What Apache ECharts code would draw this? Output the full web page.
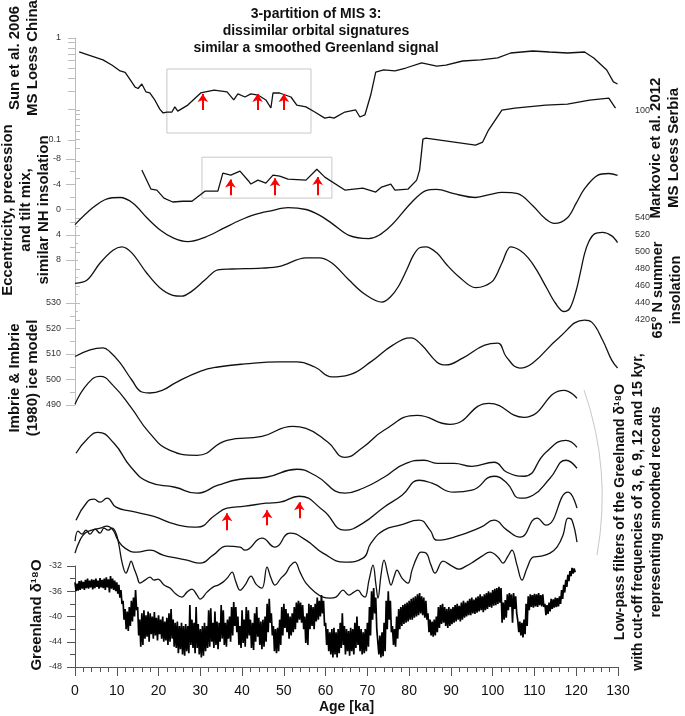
<!DOCTYPE html>
<html><head><meta charset="utf-8">
<script src="https://cdn.jsdelivr.net/npm/echarts@6/dist/echarts.min.js"></script>
<style>html,body{margin:0;padding:0;background:#fff}#c{width:685px;height:716px}</style>
</head><body><div id="c"></div>
<script>
// ---------- DATA ----------
const ageTicks = [0,10,20,30,40,50,60,70,80,90,100,110,120,130];

// Sun et al. 2006, MS Loess China (log scale, [age ka, MS])
const sunChina = [[1.0,0.73],[2.4,0.70],[6.7,0.61],[8.9,0.54],[10.8,0.475],[12.0,0.46],[13.2,0.39],[14.4,0.33],[15.1,0.32],[16.0,0.354],[17.0,0.296],[17.9,0.289],[19.1,0.247],[20.3,0.201],[21.1,0.184],[22.0,0.188],[23.2,0.188],[23.9,0.211],[24.6,0.192],[27.0,0.22],[30.1,0.289],[33.3,0.309],[36.4,0.296],[38.0,0.247],[39.0,0.283],[40.7,0.264],[42.1,0.283],[43.8,0.276],[45.7,0.247],[46.9,0.206],[47.4,0.289],[49.0,0.289],[51.7,0.264],[53.1,0.22],[55.3,0.211],[57.4,0.188],[59.8,0.164],[61.0,0.168],[62.0,0.164],[64.6,0.188],[67.2,0.197],[68.2,0.168],[69.4,0.176],[70.8,0.276],[72.0,0.464],[73.9,0.486],[76.6,0.475],[79.2,0.508],[83.0,0.569],[86.6,0.531],[88.8,0.543],[92.8,0.595],[97.1,0.609],[101.2,0.637],[104.3,0.713],[109.6,0.746],[113.6,0.729],[117.9,0.713],[122.0,0.729],[124.2,0.637],[127.3,0.486],[128.9,0.371],[129.9,0.354]];
const sunArrowAges = [30.6,43.7,50.0];
const sunArrowFrom = 0.197, sunArrowTo = 0.282;
const sunBox = [[22,0.497],[56.5,0.117]];

// Markovic et al. 2012, MS Loess Serbia (log scale)
const markovicSerbia = [[16.0,24.1],[18.2,15.3],[19.6,15.0],[21.3,12.4],[23.4,11.3],[25.8,11.5],[28.0,11.5],[31.1,14.6],[34.2,14.6],[35.4,22.4],[37.3,21.4],[39.5,23.5],[41.6,18.5],[42.1,17.3],[43.8,19.0],[45.7,17.7],[47.4,21.4],[49.0,20.9],[51.0,19.4],[55.3,19.0],[57.9,24.6],[59.8,20.4],[64.6,15.0],[68.9,15.7],[72.0,14.3],[73.4,16.1],[75.6,17.3],[76.6,15.0],[79.7,15.3],[81.8,19.0],[82.5,24.1],[83.3,50.2],[84.0,51.5],[95.9,43.6],[97.6,46.8],[99.0,62.2],[102.2,100],[105.3,104.9],[112.7,112.6],[117.9,115.3],[123.2,126.8],[127.8,132.9],[129.4,104.9]];
const markovicArrowAges = [37.2,47.9,58.1];
const markovicArrowFrom = 13.3, markovicArrowTo = [19.3,19.8,20.5];
const markovicBox = [[30.4,32.7],[61.5,12.4]];

// Eccentricity, precession and tilt mix (inverted axis)
const orbitalMix = [[0,2.4],[4.3,-0.3],[7.7,-1.7],[10.8,-1.9],[13.9,-1.0],[17.2,1.3],[20.3,3.2],[23.5,4.5],[27.0,5.1],[31.1,4.4],[35.5,3.0],[39.5,1.7],[43.0,0.8],[46.9,0.2],[51.0,-0.3],[55.3,0],[58.5,0.9],[61.5,2.2],[65.6,4.1],[70.3,4.6],[75.1,2.9],[80.4,-1.0],[84.0,-3.0],[86.6,-3.2],[90.7,-2.5],[95.9,-1.9],[99.5,-2.4],[102.2,-2.7],[106.0,-2.5],[109.6,-0.6],[112.5,1.4],[114.8,2.2],[117.9,1.3],[120.0,-1.0],[122.0,-3.3],[125.1,-5.4],[127.8,-5.7],[129.9,-5.4]];

// 65°N summer insolation (W/m2)
const insolation65N = [[0,463],[2.9,467],[6.0,487],[9.1,502],[11.2,506],[13.6,499],[17.2,475],[20.3,458],[23.4,449],[25.5,448],[28.0,454],[31.1,467],[34.2,479],[37.6,480],[44.7,481],[49.0,483],[55.3,493],[58.4,493],[61.5,487],[65.6,467],[69.5,450],[73.5,441],[75.5,447],[77.5,460],[79.5,480],[81.0,496],[82.5,505],[84.0,506],[86.6,499],[89.0,485],[91.9,471],[95.9,458],[98.0,460],[100.2,467],[102.3,488],[104.3,506],[106.5,502],[108.5,493],[110.5,479],[113.0,457],[115.0,440],[117.0,430],[118.5,434],[120.0,455],[121.0,476],[122.0,498],[123.0,512],[124.3,521],[126.3,523],[128.5,519],[129.9,511]];

// Imbrie & Imbrie (1980) ice model
const iceModel = [[0,509],[3.6,511.6],[6.7,512.4],[8.4,510.8],[10.8,506.5],[13.6,499.8],[16.0,495.1],[17.9,494.7],[21.1,495.9],[23.9,498.6],[30.1,503.3],[34.2,504.9],[40.7,506.1],[49.0,506.9],[53.1,506.9],[57.4,504.9],[61.5,501.0],[65.6,501.8],[70.8,506.9],[76.1,513.5],[80.4,516.3],[83.0,513.5],[86.6,506.9],[88.8,505.7],[92.8,508.4],[98.1,513.5],[101.2,514.3],[103.3,508.8],[106.5,504.5],[109.6,506.5],[115.8,516.3],[122.0,523.3],[123.7,522.5],[126.3,515.5],[128.5,507.6],[129.9,504.5]];

// Low-pass filtered Greenland d18O (stacked with display offsets, permil)
const lowpass15 = [[0,-6.25],[3.11,-2.92],[5.99,-1.81],[9.10,-3.24],[13.41,-6.73],[17.72,-10.70],[22.74,-13.56],[29.21,-14.35],[36.39,-11.97],[44.77,-11.33],[52.19,-9.75],[55.30,-10.06],[60.57,-12.29],[64.64,-14.67],[68.95,-13.08],[73.98,-10.38],[81.88,-8.00],[89.78,-9.43],[99.11,-6.10],[107.49,-8.32],[117.07,-4.03],[120.18,-5.30]];
const lowpass12 = [[0.24,-14.03],[3.11,-11.65],[5.51,-10.70],[9.34,-12.44],[13.41,-16.25],[17.72,-18.63],[23.94,-19.43],[29.21,-20.38],[34.24,-19.11],[39.50,-18.16],[45.73,-17.84],[53.15,-16.57],[57.46,-17.52],[64.64,-20.38],[68.95,-19.59],[73.98,-17.84],[79.24,-15.62],[83.55,-15.14],[86.67,-15.62],[90.73,-15.62],[95.04,-16.10],[100.31,-15.46],[103.42,-17.05],[107.49,-17.68],[112.76,-13.87],[117.55,-11.97],[120.18,-13.08]];
const lowpass9 = [[0.24,-24.67],[2.87,-21.81],[4.55,-21.33],[5.99,-21.81],[7.66,-21.17],[9.82,-22.60],[13.41,-23.24],[18.67,-24.03],[23.94,-25.30],[29.21,-25.78],[33.52,-23.87],[36.39,-22.76],[40.70,-22.44],[45.73,-21.97],[49.08,-21.81],[53.63,-20.86],[59.37,-23.08],[64.64,-26.25],[68.95,-25.14],[73.98,-22.60],[78.29,-20.70],[82.36,-18.32],[85.47,-18.79],[90.73,-20.22],[95.04,-19.90],[100.31,-17.68],[103.42,-18.79],[106.54,-21.17],[109.65,-20.70],[113.72,-18.0],[117.55,-15.14],[120.18,-16.41]];
const lowpass6 = [[0,-29.90],[1.20,-27.84],[2.39,-26.73],[4.07,-26.25],[5.99,-25.94],[7.66,-25.62],[9.10,-26.25],[10.29,-27.84],[11.97,-29.11],[14.84,-29.75],[17.96,-29.43],[21.07,-30.22],[24.42,-30.70],[26.81,-31.02],[29.93,-31.49],[33.04,-30.22],[36.39,-28.79],[39.50,-28.95],[40.70,-29.43],[44.77,-27.52],[47.88,-28.95],[51.47,-26.73],[55.30,-27.84],[59.37,-29.90],[64.64,-31.33],[68.95,-30.70],[70.86,-28.32],[73.98,-26.25],[77.81,-25.46],[82.36,-24.67],[84.99,-26.25],[86.67,-27.84],[90.73,-27.37],[97.20,-25.78],[100.31,-24.67],[103.42,-26.25],[106.54,-27.37],[110.61,-24.35],[112.76,-25.46],[118.03,-20.22],[120.18,-22.76]];
const lowpass3 = [[0,-28.0],[0.72,-26.41],[1.68,-26.89],[2.63,-26.25],[3.59,-26.89],[4.79,-26.10],[5.99,-26.73],[6.94,-25.94],[7.90,-26.25],[8.86,-25.94],[9.82,-26.73],[10.53,-28.63],[11.25,-31.33],[12.21,-33.08],[12.93,-31.97],[13.41,-31.17],[14.12,-32.29],[14.84,-33.56],[15.56,-34.67],[16.76,-34.19],[17.96,-33.71],[18.91,-34.19],[19.87,-34.03],[21.31,-34.98],[22.74,-35.46],[24.18,-36.41],[25.62,-36.89],[26.81,-36.10],[28.01,-35.62],[29.21,-36.57],[29.93,-37.21],[31.60,-36.10],[33.04,-35.30],[34.24,-34.98],[35.43,-34.51],[36.63,-33.71],[37.59,-32.92],[38.54,-34.51],[39.50,-35.78],[40.70,-34.98],[42.14,-33.56],[43.33,-34.83],[44.77,-35.46],[45.97,-32.13],[46.92,-33.87],[47.88,-34.98],[49.32,-33.87],[50.51,-33.08],[51.47,-31.97],[52.67,-31.33],[53.87,-32.92],[55.30,-34.67],[57.46,-36.10],[59.37,-36.89],[61.05,-37.05],[62.48,-36.89],[64.16,-35.78],[65.60,-36.57],[66.79,-36.10],[67.75,-35.78],[68.71,-36.57],[69.43,-36.89],[70.39,-34.19],[71.34,-31.81],[72.06,-34.98],[72.54,-37.05],[73.26,-33.40],[73.98,-31.02],[74.93,-33.40],[75.65,-34.98],[76.37,-33.71],[77.09,-32.60],[78.29,-33.87],[79.72,-34.67],[80.68,-32.60],[81.88,-30.54],[82.83,-29.75],[84.03,-29.90],[85.23,-31.81],[86.19,-33.08],[88.10,-31.17],[90.26,-31.97],[91.93,-32.44],[93.61,-31.97],[95.28,-31.33],[97.44,-30.38],[99.35,-29.75],[101.27,-30.54],[102.47,-31.49],[103.66,-30.38],[104.62,-29.43],[105.82,-31.81],[107.02,-34.19],[108.21,-32.29],[109.65,-30.54],[111.56,-30.38],[113.72,-29.90],[115.39,-28.95],[116.83,-27.05],[118.03,-24.35],[118.99,-24.67],[120.18,-28.16]];
const lowpassArrowAges = [36.4,46.0,53.7];
const lowpassArrowFrom = [-26.25,-25.46,-24.35];
const lowpassArrowTo = [-23.56,-23.08,-21.81];

// Greenland d18O, upper / lower envelope of the raw record every 0.5 ka (0 - 119.5 ka)
const greenlandStep = 0.5;
const greenlandHigh = [-34.6,-34.8,-34.4,-34.3,-34.5,-34.2,-34.0,-34.3,-34.1,-34.2,-34.0,-34.3,-33.9,-34.2,-34.0,-33.8,-34.1,-33.6,-34.0,-34.3,-34.6,
-35.0,-35.8,-37.5,-38.8,-39.2,-38.5,-37.5,-37.0,-35.8,-38.5,-40.5,-39.5,-39.0,-39.8,-39.2,-39.5,-40.0,-39.3,-40.2,-39.8,
-40.5,-40.0,-40.8,-40.2,-39.5,-38.8,-40.5,-41.0,-40.8,-41.5,-41.0,-41.5,-41.2,-41.5,-38.2,-40.5,-41.0,-38.5,-41.2,-42.0,-41.5,-41.0,-41.5,-39.0,-38.7,-41.0,-39.2,-40.8,-41.0,-38.2,-39.0,-41.0,-40.5,-40.0,-38.5,-37.7,-38.5,-40.0,-41.5,-39.0,
-40.5,-38.5,-39.0,-40.5,-41.0,-39.5,-38.5,-40.2,-40.8,-40.5,-40.0,-38.0,-37.2,-39.5,-41.5,-42.0,-41.8,-40.5,-38.5,-38.0,-38.8,-39.5,-40.0,-39.5,-38.5,-37.8,-37.5,-37.8,-38.2,-40.0,-39.5,-38.0,-38.2,-38.5,-38.0,-37.0,-37.5,-36.6,-37.5,-41.0,
-42.0,-42.5,-42.0,-41.8,-42.5,-42.0,-41.0,-39.5,-41.5,-42.0,-42.3,-41.8,-42.0,-41.0,-40.0,-41.5,-42.0,-42.5,-42.0,-41.0,-38.5,-36.0,-35.5,-37.0,-42.0,-43.0,-42.5,-41.0,-37.5,-36.0,-37.5,-41.5,-42.0,-40.0,-38.8,-38.5,-38.2,-38.0,-37.8,-37.5,
-37.2,-37.0,-36.8,-36.5,-36.3,-36.8,-37.0,-37.5,-39.5,-40.5,-40.8,-40.5,-40.0,-38.5,-38.2,-38.0,-38.5,-38.8,-38.5,-38.8,-38.5,-38.2,-38.0,-38.3,-37.8,-37.5,-37.8,-37.5,-37.2,-37.0,-37.3,-37.0,-36.8,-36.5,-36.8,-36.5,-36.3,-36.0,-36.2,-35.8,
-35.6,-35.5,-35.3,-35.5,-37.8,-37.4,-36.5,-36.3,-36.5,-36.3,-36.8,-40.6,-40.8,-41.0,-40.5,-38.0,-36.8,-36.5,-36.6,-36.4,-36.5,-36.3,-36.6,-36.5,-38.0,-38.2,-37.8,-37.2,-37.3,-37.0,-37.1,-36.8,-35.8,-35.0,-34.2,-33.4,-32.8,-32.3,-32.4];
const greenlandLow = [-36.0,-35.9,-35.8,-35.6,-35.8,-35.5,-35.6,-35.4,-35.7,-35.5,-35.3,-35.6,-35.4,-35.5,-35.8,-35.4,-36.2,-35.6,-35.8,-36.0,-36.4,
-37.0,-38.0,-40.5,-42.0,-42.3,-41.5,-40.8,-40.0,-39.0,-43.0,-44.8,-44.5,-43.5,-43.2,-44.0,-42.8,-43.5,-43.0,-43.8,-42.8,
-43.5,-44.0,-43.8,-44.5,-44.0,-43.5,-44.8,-45.0,-45.8,-45.2,-46.0,-46.2,-45.5,-45.8,-44.5,-45.0,-45.8,-45.0,-46.0,-46.5,-46.2,-45.5,-45.0,-44.8,-44.0,-45.0,-44.5,-45.2,-44.0,-43.5,-44.5,-44.8,-43.5,-44.0,-43.0,-41.5,-42.5,-44.5,-45.0,-44.2,
-44.8,-43.5,-43.0,-45.0,-45.3,-44.0,-43.2,-44.5,-45.2,-44.8,-44.0,-42.5,-41.0,-43.0,-45.5,-45.8,-45.5,-44.5,-43.0,-41.8,-42.5,-43.5,-43.0,-42.5,-42.0,-41.0,-40.5,-41.0,-42.0,-44.2,-44.5,-42.0,-41.5,-42.0,-40.8,-40.5,-40.0,-39.5,-41.5,-44.5,
-45.5,-46.0,-46.5,-46.0,-46.5,-45.8,-45.0,-44.5,-46.0,-45.5,-46.2,-45.5,-46.0,-45.0,-44.5,-45.5,-46.0,-45.8,-45.5,-44.8,-43.0,-40.5,-39.5,-42.0,-46.0,-46.5,-46.3,-45.5,-42.0,-40.5,-42.5,-44.5,-44.8,-43.5,-42.0,-41.5,-41.2,-41.0,-40.8,-40.5,
-40.5,-40.2,-40.0,-39.8,-39.5,-39.8,-40.2,-40.5,-42.5,-43.0,-43.2,-43.0,-42.5,-41.8,-41.2,-41.0,-41.5,-41.8,-41.5,-41.2,-41.0,-40.8,-40.5,-40.8,-40.5,-40.2,-40.0,-39.8,-39.8,-39.5,-39.6,-39.4,-39.2,-39.0,-39.3,-39.0,-38.8,-38.5,-38.6,-38.3,
-38.2,-38.0,-37.8,-41.0,-40.5,-40.2,-39.0,-38.5,-41.0,-38.8,-39.5,-42.5,-43.0,-43.3,-42.8,-41.5,-39.0,-38.5,-38.6,-38.4,-38.5,-38.2,-38.4,-38.5,-39.8,-39.6,-39.2,-38.8,-38.6,-38.5,-38.4,-38.0,-37.2,-36.2,-35.3,-34.4,-33.6,-33.2,-33.0];

// ---------- BUILD ----------
const greenlandSeries = [];
greenlandHigh.forEach((h, i) => {
  const t = i * greenlandStep;
  greenlandSeries.push([t, h]);
  greenlandSeries.push([t + greenlandStep / 2, greenlandLow[i]]);
});

const FONT = '"Liberation Sans", Arial, sans-serif';
const L = 75, W = 543;
const lightAxis = '#bdbdbd';
const tickLabel = {fontSize: 9, color: '#333', fontFamily: FONT};

function arrows(ages, from, to) {
  return {
    silent: true, symbol: ['none', 'arrow'], symbolSize: 8,
    lineStyle: {color: '#f00', width: 2, type: 'solid'},
    label: {show: false},
    data: ages.map((a, i) => [
      {coord: [a, Array.isArray(from) ? from[i] : from]},
      {coord: [a, Array.isArray(to) ? to[i] : to]}
    ])
  };
}
function box(b) {
  return {
    silent: true,
    itemStyle: {color: 'rgba(0,0,0,0)', borderColor: '#c8c8c8', borderWidth: 1},
    data: [[{coord: b[0]}, {coord: b[1]}]]
  };
}

const grids = [
  {left: L, width: W, top: 38, height: 102},
  {left: L, width: W, top: 99, height: 103},
  {left: L, width: W, top: 159, height: 101},
  {left: L, width: W, top: 218, height: 102},
  {left: L, width: W, top: 303, height: 102},
  {left: L, width: W, top: 365, height: 302},
  {left: L, width: W, top: 566, height: 101}
];
const xAxes = grids.map((g, i) => ({
  gridIndex: i, type: 'value', min: 0, max: 130, show: i === 6
}));
Object.assign(xAxes[6], {
  interval: 10,
  axisLine: {show: true, lineStyle: {color: '#555', width: 1}},
  axisTick: {show: true, length: 9, lineStyle: {color: '#555'}, customValues: ageTicks},
  minorTick: {show: true, splitNumber: 5, length: 5, lineStyle: {color: '#555'}},
  axisLabel: {fontSize: 14, color: '#111', margin: 17, fontFamily: FONT, customValues: ageTicks},
  splitLine: {show: false},
  name: 'Age [ka]', nameLocation: 'middle', nameGap: 33,
  nameTextStyle: {fontSize: 14, fontWeight: 'bold', color: '#111', fontFamily: FONT}
});

const leftLight = {
  axisLine: {show: true, lineStyle: {color: lightAxis}},
  axisTick: {show: true, length: 9, lineStyle: {color: lightAxis}},
  minorTick: {show: true, splitNumber: 2, length: 5, lineStyle: {color: lightAxis}},
  axisLabel: Object.assign({margin: 14}, tickLabel),
  splitLine: {show: false}, minorSplitLine: {show: false}
};

const yAxes = [
  Object.assign({}, leftLight, {gridIndex: 0, type: 'log', logBase: 10, min: 0.1, max: 1, position: 'left',
    axisTick: {show: true, length: 7, lineStyle: {color: lightAxis}, customValues: [0.1,0.2,0.3,0.4,0.5,0.6,0.7,0.8,0.9,1]},
    minorTick: {show: false},
    axisLabel: Object.assign({margin: 14, customValues: [0.1, 1]}, tickLabel)}),
  Object.assign({}, leftLight, {gridIndex: 1, type: 'log', logBase: 10, min: 11.3, max: 130, position: 'right', offset: 3,
    axisTick: {show: true, length: 5, lineStyle: {color: lightAxis}, customValues: [20,30,40,50,60,70,80,90,100]},
    minorTick: {show: false},
    axisLabel: Object.assign({margin: 14, customValues: [100]}, tickLabel)}),
  Object.assign({}, leftLight, {gridIndex: 2, type: 'value', min: -8, max: 8, interval: 4, inverse: true, position: 'left'}),
  Object.assign({}, leftLight, {gridIndex: 3, type: 'value', min: 420, max: 540, interval: 20, position: 'right', offset: 3,
    axisTick: {show: true, length: 5, lineStyle: {color: lightAxis}},
    minorTick: {show: true, splitNumber: 2, length: 3, lineStyle: {color: lightAxis}}}),
  Object.assign({}, leftLight, {gridIndex: 4, type: 'value', min: 490, max: 530, interval: 10, position: 'left'}),
  {gridIndex: 5, type: 'value', min: -48, max: 0, show: false},
  Object.assign({}, leftLight, {gridIndex: 6, type: 'value', min: -48, max: -32, interval: 4, position: 'left',
    axisLine: {show: true, lineStyle: {color: '#555'}},
    axisTick: {show: true, length: 8, lineStyle: {color: '#555'}},
    minorTick: {show: true, splitNumber: 2, length: 5, lineStyle: {color: '#555'}},
    axisLabel: Object.assign({margin: 13}, tickLabel)})
];

function line(idx, data, opts) {
  return Object.assign({
    type: 'line', xAxisIndex: idx, yAxisIndex: idx, data: data,
    showSymbol: false, symbol: 'none', silent: true,
    lineStyle: {color: '#111', width: 1.3}
  }, opts || {});
}

const series = [
  line(0, sunChina, {markArea: box(sunBox), markLine: arrows(sunArrowAges, sunArrowFrom, sunArrowTo)}),
  line(1, markovicSerbia, {clip: false, markArea: box(markovicBox), markLine: arrows(markovicArrowAges, markovicArrowFrom, markovicArrowTo)}),
  line(2, orbitalMix, {smooth: 0.35}),
  line(3, insolation65N, {smooth: 0.35}),
  line(4, iceModel, {smooth: 0.45}),
  line(5, lowpass15, {smooth: 0.5}),
  line(5, lowpass12, {smooth: 0.5}),
  line(5, lowpass9, {smooth: 0.5, markLine: arrows(lowpassArrowAges, lowpassArrowFrom, lowpassArrowTo)}),
  line(5, lowpass6, {smooth: 0.5}),
  line(5, lowpass3, {smooth: 0.4}),
  line(6, greenlandSeries, {lineStyle: {color: '#000', width: 1.7}})
];

function vtext(x, y, text, size, lh) {
  return {type: 'text', x: x, y: y, rotation: Math.PI / 2, silent: true,
    style: {text: text, fill: '#111', font: 'bold ' + size + 'px ' + FONT,
      align: 'center', verticalAlign: 'middle', lineHeight: lh}};
}
const graphics = [
  {type: 'text', x: 316, y: 31, silent: true,
   style: {text: '3-partition of MIS 3:\ndissimilar orbital signatures\nsimilar a smoothed Greenland signal',
     fill: '#111', font: 'bold 14px ' + FONT, align: 'center', verticalAlign: 'middle', lineHeight: 17}},
  vtext(24, 58, 'Sun et al. 2006\nMS Loess China', 15, 18),
  vtext(26, 210, 'Eccentricity, precession\nand tilt mix,\nsimilar NH insolation', 15, 18),
  vtext(24, 378, 'Imbrie & Imbrie\n(1980) ice model', 15, 18),
  vtext(37, 615, 'Greenland δ¹⁸O', 15, 18),
  vtext(665, 148, 'Markovic et al. 2012\nMS Loess Serbia', 15, 18),
  vtext(667, 290, '65° N summer\ninsolation', 14.5, 18),
  vtext(638, 512, 'Low-pass filters of the Greelnand δ¹⁸O\nwith cut-off frequencies of 3, 6, 9, 12 and 15 kyr,\nrepresenting smoothed records', 14, 18),
  {type: 'bezierCurve', silent: true,
   shape: {x1: 584, y1: 390, cpx1: 612, cpy1: 470, x2: 597, y2: 555},
   style: {stroke: '#c8c8c8', lineWidth: 1, fill: null}}
];

const chart = echarts.init(document.getElementById('c'), null, {renderer: 'canvas'});
chart.setOption({
  animation: false,
  backgroundColor: '#fff',
  grid: grids, xAxis: xAxes, yAxis: yAxes, series: series, graphic: graphics
});
</script></body></html>
